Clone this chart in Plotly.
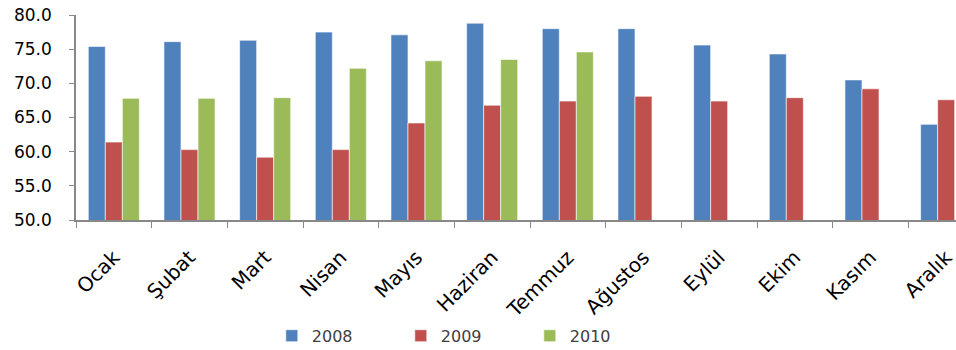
import plotly.graph_objects as go

months = ["Ocak", "Şubat", "Mart", "Nisan", "Mayıs", "Haziran", "Temmuz",
          "Ağustos", "Eylül", "Ekim", "Kasım", "Aralık"]
v2008 = [75.4, 76.1, 76.3, 77.5, 77.1, 78.8, 78.0, 78.0, 75.6, 74.3, 70.5, 64.0]
v2009 = [61.4, 60.3, 59.2, 60.3, 64.2, 66.8, 67.4, 68.1, 67.4, 67.9, 69.2, 67.6]
v2010 = [67.8, 67.8, 67.9, 72.2, 73.3, 73.5, 74.6, None, None, None, None, None]

series = [("2008", v2008, "#4F81BD"), ("2009", v2009, "#C0504D"), ("2010", v2010, "#9BBB59")]

fig = go.Figure()
for name, vals, col in series:
    fig.add_trace(go.Bar(
        x=months, y=vals, name=name,
        marker=dict(color=col, line=dict(color="rgba(255,255,255,0.6)", width=1)),
    ))

font = "DejaVu Sans, Verdana, sans-serif"
fig.update_layout(
    width=956, height=350,
    margin=dict(l=76, r=0, t=15, b=130, autoexpand=False),
    barmode="group", bargap=0.325, bargroupgap=0,
    plot_bgcolor="white", paper_bgcolor="white",
    showlegend=True,
    legend=dict(orientation="h", x=0.2225, xanchor="left", y=-0.565, yanchor="middle",
                font=dict(family=font, size=16, color="#404040"),
                entrywidth=84, itemwidth=30, traceorder="normal"),
    xaxis=dict(range=[-0.5, 11.13], showline=True, linecolor="#888888", linewidth=1.5,
               ticks="outside", ticklen=6, tickcolor="#888888", tickson="boundaries",
               tickangle=-45, ticklabelstandoff=16, automargin=False,
               tickfont=dict(family=font, size=20, color="#000000"),
               showgrid=False, zeroline=False),
    yaxis=dict(range=[50, 80], dtick=5, tickformat=".1f", showline=True, linecolor="#888888",
               linewidth=1.5, ticks="outside", ticklen=5, tickcolor="#888888",
               ticklabelstandoff=14, automargin=False,
               tickfont=dict(family=font, size=17, color="#000000"),
               showgrid=False, zeroline=False),
)

fig.write_html("out.html")
